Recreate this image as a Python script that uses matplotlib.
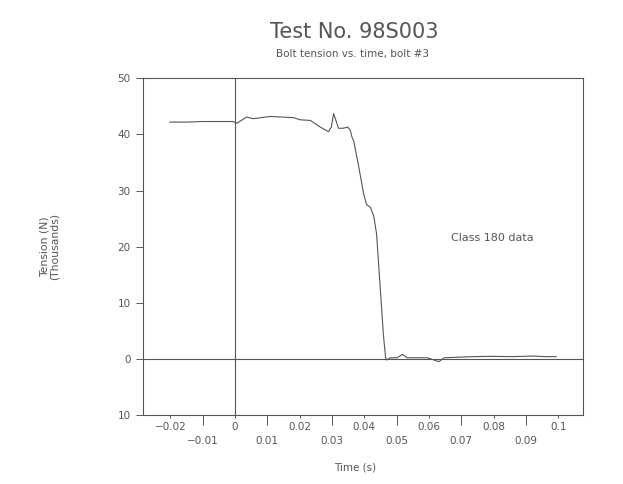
import matplotlib
matplotlib.use("Agg")
import matplotlib.pyplot as plt

# datos (tiempo en s, tension en miles de N)
tiempo = [-0.0202, -0.015, -0.010, -0.005, -0.0006, 0.0006, 0.0036, 0.0056,
          0.0109, 0.018, 0.0202, 0.0233, 0.0264, 0.0289, 0.0298, 0.0305,
          0.0314, 0.032, 0.0334, 0.0349, 0.0357, 0.0362, 0.0367, 0.0383,
          0.0398, 0.0407, 0.0419, 0.0429, 0.0438, 0.0445, 0.0452, 0.0459,
          0.0466, 0.0469, 0.0481, 0.0502, 0.0518, 0.0533, 0.0595, 0.0631,
          0.0647, 0.074, 0.0792, 0.0854, 0.0926, 0.0957, 0.0994]
tension = [42.2, 42.2, 42.3, 42.3, 42.3, 42.0, 43.1, 42.8,
           43.2, 43.0, 42.6, 42.5, 41.3, 40.5, 41.3, 43.7,
           42.2, 41.1, 41.1, 41.3, 40.7, 39.5, 38.9, 34.2,
           29.4, 27.5, 27.0, 25.5, 22.3, 16.3, 10.4, 4.4,
           0.2, -0.2, 0.2, 0.2, 0.8, 0.2, 0.2, -0.5,
           0.2, 0.4, 0.45, 0.4, 0.5, 0.4, 0.4]

ticks_par = [-0.02, 0.0, 0.02, 0.04, 0.06, 0.08, 0.1]
etiq_par = ["\u22120.02", "0", "0.02", "0.04", "0.06", "0.08", "0.1"]
ticks_impar = [-0.01, 0.01, 0.03, 0.05, 0.07, 0.09]
etiq_impar = ["\u22120.01", "0.01", "0.03", "0.05", "0.07", "0.09"]
ticks_y = [-10, 0, 10, 20, 30, 40, 50]
etiq_y = ["10", "0", "10", "20", "30", "40", "50"]

gris = "#555555"
texto = "#555555"

fig = plt.figure(figsize=(6.23, 4.84), dpi=100)
ax = fig.add_axes([0.2295, 0.1426, 0.7063, 0.6956])

ax.plot(tiempo, tension, color=gris, lw=0.8)
ax.axvline(0, color=gris, lw=0.8)
ax.axhline(0, color=gris, lw=0.8)

ax.set_xlim(-0.0285, 0.1077)
ax.set_ylim(-10, 50)

ax.set_xticks(ticks_par)
ax.set_xticklabels(etiq_par)
ax.set_xticks(ticks_impar, minor=True)
ax.set_xticklabels(etiq_impar, minor=True)
ax.tick_params(axis="x", which="major", length=2.2, pad=2.9, width=0.7,
               colors=gris, labelcolor=texto, labelsize=7.5)
ax.tick_params(axis="x", which="minor", length=7.2, pad=8, width=0.7,
               colors=gris, labelcolor=texto, labelsize=7.5)

ax.set_yticks(ticks_y)
ax.set_yticklabels(etiq_y)
ax.tick_params(axis="y", length=5, pad=4, width=0.7,
               colors=gris, labelcolor=texto, labelsize=7.5)

for s in ax.spines.values():
    s.set_color(gris)
    s.set_linewidth(0.8)

ax.text(0.0668, 21.5, "Class 180 data", fontsize=8, color=texto,
        va="center", ha="left")

fig.text(0.568, 0.921, "Test No. 98S003", fontsize=15, color=texto,
         ha="center", va="baseline")
fig.text(0.566, 0.882, "Bolt tension vs. time, bolt #3", fontsize=7.5,
         color=texto, ha="center", va="baseline")
fig.text(0.57, 0.035, "Time (s)", fontsize=7.5, color=texto,
         ha="center", va="center")
fig.text(0.079, 0.49, "Tension (N)\n(Thousands)", fontsize=7.8, color=texto,
         ha="center", va="center", rotation=90, linespacing=1.0)

plt.savefig("out.png", dpi=100)
plt.close()
